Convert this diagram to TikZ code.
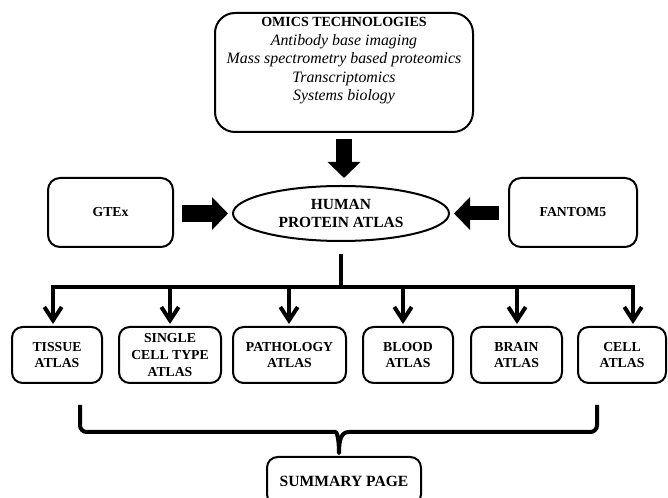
\documentclass[tikz,border=0pt]{standalone}
\usepackage{fontspec}
\setmainfont{Liberation Serif}
\usetikzlibrary{arrows.meta,shapes.geometric}

\begin{document}
\begin{tikzpicture}[x=0.75pt,y=-0.75pt,
    box/.style={draw,line width=1.5pt,rounded corners=8pt,align=center,inner sep=0pt,
      font=\bfseries\fontsize{10.3}{12.5}\selectfont},
    fat/.style={line width=12.5pt,-{Triangle[length=12pt,width=24pt]}},
    bus/.style={line width=3pt,line join=miter},
    tip/.style={-{Straight Barb[length=10pt,width=13pt]}},
    ends/.style={{Straight Barb[length=10pt,width=13pt]}-{Straight Barb[length=10pt,width=13pt]}}]
      \useasboundingbox (0,0) rectangle (668,498);
      \clip (0,0) rectangle (668,498);

      \node[box,rounded corners=15pt,minimum width=193.5pt,minimum height=89.25pt] (omics) at (344,72.5) {};
      \node[align=center,font=\itshape\fontsize{11.9}{13.9}\selectfont] (omicstext) at (344,61)
        {{\upshape\bfseries\fontsize{10.5}{13.9}\selectfont OMICS TECHNOLOGIES}\\
         Antibody base imaging\\Mass spectrometry based proteomics\\Transcriptomics\\Systems biology};

      \node[box,rounded corners=9pt,minimum width=93.75pt,minimum height=51.75pt] (gtex) at (110.5,212.5) {GTEx};
      \node[box,rounded corners=9pt,minimum width=96pt,minimum height=51.75pt] (fantom) at (573,212.5) {FANTOM5};
      \node[draw,line width=1.5pt,ellipse,inner sep=0pt,minimum width=162pt,minimum height=41.25pt,
        align=center,font=\bfseries\fontsize{11.6}{13.5}\selectfont] (hpa) at (341,213.5) {HUMAN\\PROTEIN ATLAS};

      \draw[fat,shorten <=4.5pt,shorten >=5.25pt] (omics.south) -- (omics.south |- hpa.north);
      \draw[fat,shorten <=6pt,shorten >=3pt] (gtex.east |- hpa.west) -- (hpa.west);
      \draw[fat,line width=10.5pt,shorten <=6.75pt,shorten >=3pt] (fantom.west |- hpa.east) -- (hpa.east);

      \node[box,minimum width=67.5pt,minimum height=42pt] (tissue) at (57,355) {TISSUE\\ATLAS};
      \node[box,minimum width=76.5pt,minimum height=42pt] (single) at (170,355) {SINGLE\\CELL TYPE\\ATLAS};
      \node[box,minimum width=84.75pt,minimum height=42pt] (pathology) at (289.5,355) {PATHOLOGY\\ATLAS};
      \node[box,minimum width=67.5pt,minimum height=42pt] (blood) at (408,355) {BLOOD\\ATLAS};
      \node[box,minimum width=68.25pt,minimum height=42pt] (brain) at (516.5,355) {BRAIN\\ATLAS};
      \node[box,minimum width=66pt,minimum height=42pt] (cell) at (622,355) {CELL\\ATLAS};

      \coordinate (t1) at (53,287);
      \coordinate (t2) at (170,287);
      \coordinate (t3) at (289,287);
      \coordinate (t4) at (403,287);
      \coordinate (t5) at (517,287);
      \coordinate (t6) at (633,287);

      \draw[bus,shorten <=9pt] (hpa.south) -- (hpa.south |- t1);
      \draw[bus,ends,shorten <=1.5pt,shorten >=1.5pt] (t1 |- tissue.north) -- (t1) -- (t6) -- (t6 |- cell.north);
      \foreach \n/\t in {single/t2,pathology/t3,blood/t4,brain/t5}
        \draw[bus,tip,shorten >=1.5pt] (\t) -- (\t |- \n.north);

      % brace
      \coordinate (bl) at (80,405);
      \coordinate (br) at (597,405);
      \coordinate (bt) at (339,453);
      \draw[bus,line join=round] (bl) [rounded corners=5pt] -- (80,432) -- (329,432) [sharp corners]
        .. controls (337,432) and (339,440) .. (bt) .. controls (339,440) and (341,432) .. (349,432)
        [rounded corners=5pt] -- (597,432) -- (br);

      \node[box,minimum width=115.5pt,minimum height=36pt,font=\bfseries\fontsize{11.7}{14}\selectfont] (summary) at (344,481) {SUMMARY PAGE};
    \end{tikzpicture}
\end{document}
